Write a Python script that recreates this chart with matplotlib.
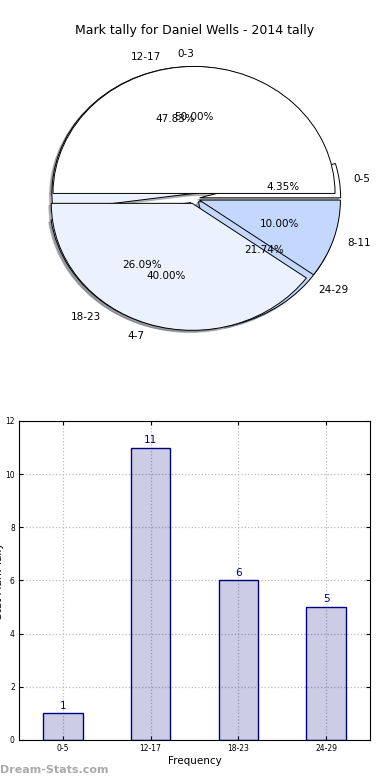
import matplotlib
matplotlib.use('Agg')
import matplotlib.pyplot as plt
import numpy as np

# Pie data (two tallies drawn on the same axes)
marks_a = ['0-5', '12-17', '18-23', '24-29']
counts_a = [1, 11, 6, 5]
colors_a = ['white', '#ebf1fd', '#ebf1fd', '#c4d8fe']

marks_b = ['0-3', '4-7', '8-11']
counts_b = [5, 4, 1]
colors_b = ['white', '#ebf1fd', '#c4d8fe']

# Bar data
bar_labels = ['0-5', '12-17', '18-23', '24-29']
bar_values = [1, 11, 6, 5]

fig = plt.figure(figsize=(3.9, 7.8), dpi=100)
fig.patch.set_facecolor('white')

# ---- top: pie ----
ax1 = fig.add_axes([0.0455, 0.542, 0.904, 0.407])
shadow = {'ox': -0.012, 'oy': -0.012, 'shade': 0.5}
for labels, counts, cols in [(marks_a, counts_a, colors_a), (marks_b, counts_b, colors_b)]:
    wedges, texts, autotexts = ax1.pie(counts, labels=labels, colors=cols,
                                       explode=[0.04] * len(counts), autopct='%1.2f%%',
                                       shadow=shadow, startangle=0, labeldistance=1.1,
                                       pctdistance=0.6,
                                       wedgeprops={'edgecolor': 'black', 'linewidth': 0.7})
    for t in texts + autotexts:
        t.set_fontsize(7.5)
ax1.set_aspect('auto')
ax1.set_xlim(-1.25, 1.25)
ax1.set_ylim(-1.25, 1.25)
fig.text(0.5, 0.961, 'Mark tally for Daniel Wells - 2014 tally', ha='center', va='center',
         fontsize=9)

# ---- bottom: bars ----
ax2 = fig.add_axes([0.0487, 0.0513, 0.9, 0.409])
x = np.arange(len(bar_values))
bars = ax2.bar(x, bar_values, width=0.45, facecolor=(0, 0, 0.5, 0.2),
               edgecolor='navy', linewidth=1.0, zorder=2)
for xi, v in zip(x, bar_values):
    ax2.text(xi, v + 0.1, str(v), ha='center', va='bottom', color='navy', fontsize=7.5)
ax2.set_xlim(-0.5, 3.5)
ax2.set_ylim(0, 12)
ax2.set_xticks(x)
ax2.set_xticklabels(bar_labels)
ax2.set_yticks(range(0, 13, 2))
ax2.tick_params(direction='in', labelsize=5.5, top=True, right=True, length=3, pad=3)
ax2.grid(True, linestyle=':', color='#bbbbbb', linewidth=0.9, zorder=0)
ax2.set_axisbelow(True)
ax2.set_xlabel('Frequency', fontsize=7.5, labelpad=2)
ax2.set_ylabel('Stat Mark Tally', fontsize=7.5, labelpad=1)

fig.text(0.0, 0.013, 'Dream-Stats.com', color='#aaaaaa', fontsize=8, fontweight='bold',
         ha='left', va='center')

fig.savefig('out.png', dpi=100)
